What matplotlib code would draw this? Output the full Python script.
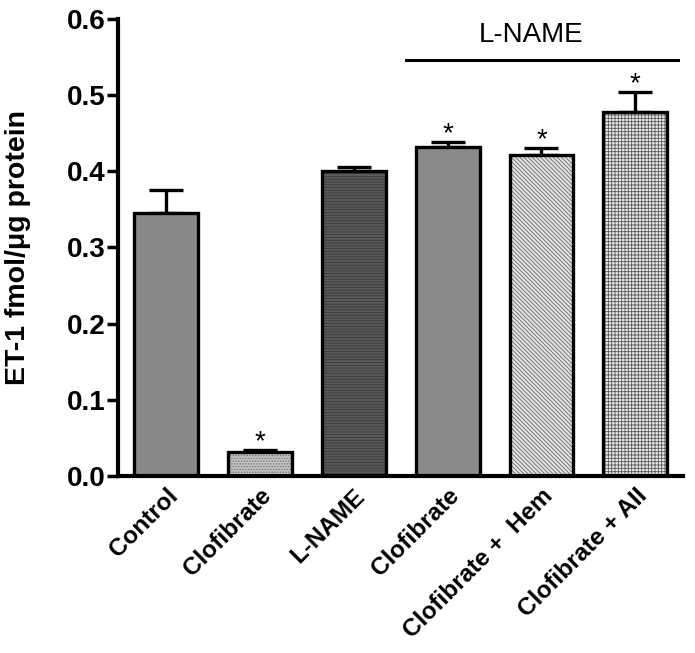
import numpy as np
import matplotlib.pyplot as plt

plt.rcParams['font.family'] = ['Liberation Sans', 'DejaVu Sans']
plt.rcParams['hatch.linewidth'] = 0.6

labels = ['Control', 'Clofibrate', 'L-NAME', 'Clofibrate', 'Clofibrate +  Hem', 'Clofibrate + AII']
means = [0.345, 0.031, 0.401, 0.432, 0.421, 0.478]
sems = [0.031, 0.003, 0.004, 0.007, 0.009, 0.026]
starred = [False, True, False, True, True, True]

faces = ['#888888', '#c0c0c0', '#5a5a5a', '#8a8a8a', '#e2e2e2', '#e8e8e8']
hatches = [None, '......', '------', None, '\\\\\\\\\\\\\\\\', '+++++']
hatch_cols = ['#888888', '#707070', '#383838', '#8a8a8a', '#6a6a6a', '#5a5a5a']

x = np.arange(len(labels))
fig = plt.figure(figsize=(6.95, 6.53), dpi=100)
ax = fig.add_axes([0.170, 0.271, 0.813, 0.700])

for i in range(len(x)):
    ax.bar(x[i], means[i], width=0.68, color=faces[i], hatch=hatches[i],
           edgecolor=hatch_cols[i], linewidth=0, zorder=2)
ax.bar(x, means, width=0.68, fill=False, edgecolor='black', linewidth=2.4, zorder=3)
ax.errorbar(x, means, yerr=[np.zeros(len(x)), sems], fmt='none', ecolor='black',
            elinewidth=2.4, capsize=12, capthick=2.4, zorder=1)

for i in range(len(x)):
    if starred[i]:
        ax.text(x[i], means[i] + sems[i] + 0.001, '*', ha='center', va='baseline',
                fontsize=20)

# L-NAME bracket
ax.plot([2.56, 5.45], [0.546, 0.546], color='black', lw=2.2, clip_on=False)
ax.text(3.89, 0.579, 'L-NAME', ha='center', va='center', fontsize=20)

ax.set_xlim(-0.51, 5.51)
ax.set_ylim(0, 0.6)
ax.set_yticks(np.arange(0, 0.61, 0.1))
ax.set_yticklabels([f'{v:.1f}' for v in np.arange(0, 0.61, 0.1)], fontsize=20, fontweight='bold')
ax.set_xticks(x)
ax.set_xticklabels(labels, rotation=45, ha='right', rotation_mode='anchor',
                   fontsize=17.5, fontweight='bold')
ax.tick_params(axis='x', length=0, pad=6)
ax.tick_params(axis='y', length=8, width=2.5, direction='out', pad=1)
for s in ['top', 'right']:
    ax.spines[s].set_visible(False)
for s in ['left', 'bottom']:
    ax.spines[s].set_linewidth(3)
ax.set_ylabel('ET-1 fmol/μg protein', fontsize=20.5, fontweight='bold')
ax.yaxis.set_label_coords(-0.154, 0.5)

fig.savefig('out.png', dpi=100)
